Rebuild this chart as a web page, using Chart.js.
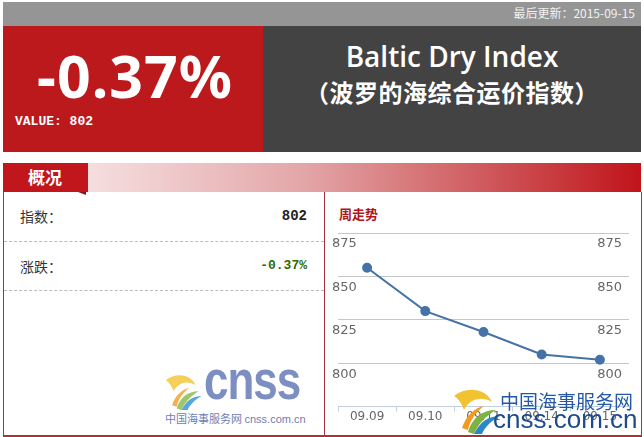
<!DOCTYPE html>
<html>
<head>
<meta charset="utf-8">
<script src="https://cdn.jsdelivr.net/npm/chart.js"></script>
<style>
  body { margin: 0; width: 644px; height: 437px; position: relative; overflow: hidden; background: #fff; font-family: "Noto Sans CJK SC", "Noto Sans", sans-serif; }
  .abs { position: absolute; white-space: nowrap; }
  .mono { font-family: "Liberation Mono", monospace; font-weight: bold; }
</style>
</head>
<body>

<!-- top banner -->
<div class="abs" style="left:3px;top:2px;width:638px;height:24px;background:#959595"></div>
<div class="abs" style="right:9px;top:4px;color:#f2f2f2;font-size:12px;line-height:18px">最后更新：2015-09-15</div>
<div class="abs" style="left:3px;top:26px;width:260px;height:126px;background:#bc191c"></div>
<div class="abs" style="left:263px;top:26px;width:378px;height:126px;background:#434343"></div>
<div class="abs" style="left:37px;top:46px;color:#fff;font-family:'Noto Sans';font-weight:bold;font-size:59px;line-height:58px;letter-spacing:1px">-0.37%</div>
<div class="abs mono" style="left:15px;top:114px;color:#fff;font-size:13px;line-height:16px">VALUE: 802</div>
<div class="abs" style="left:263px;width:378px;top:37px;text-align:center;color:#fff;font-family:'Open Sans';font-weight:600;font-size:28px;line-height:38px">Baltic Dry Index</div>
<div class="abs" style="left:263px;width:378px;top:76px;text-align:center;color:#fff;font-weight:bold;font-size:24px;line-height:32px;letter-spacing:0.5px">（波罗的海综合运价指数）</div>

<!-- section header -->
<div class="abs" style="left:3px;top:163px;width:638px;height:29px;background:linear-gradient(to right,#fbeeee 0px,#f3d6d7 120px,#e3a6a8 300px,#cf5a5d 480px,#c0141a 638px)"></div>
<div class="abs" style="left:3px;top:163px;width:85px;height:29px;background:#c0161c"></div>
<div class="abs" style="left:78px;top:192px;width:0;height:0;border-left:8px solid transparent;border-top:3px solid #8e1014"></div>
<div class="abs" style="left:28px;top:165px;color:#fff;font-weight:bold;font-size:17px;line-height:24px">概况</div>

<!-- panel borders -->
<div class="abs" style="left:3px;top:192px;width:637px;height:243px;border-left:1px solid #b0303a;border-right:1px solid #b0303a;border-bottom:2px solid #b0303a"></div>
<div class="abs" style="left:324px;top:192px;width:1px;height:243px;background:#a83040"></div>

<!-- left summary -->
<div class="abs" style="left:20px;top:206px;color:#333;font-size:14px;line-height:20px">指数：</div>
<div class="abs mono" style="right:337px;top:207px;color:#222;font-size:14px;line-height:18px">802</div>
<div class="abs" style="left:4px;top:241px;width:320px;border-top:1px dashed #bbb"></div>
<div class="abs" style="left:20px;top:256px;color:#333;font-size:14px;line-height:20px">涨跌：</div>
<div class="abs mono" style="right:337px;top:257px;color:#2f6b00;font-size:13px;line-height:18px">-0.37%</div>
<div class="abs" style="left:4px;top:290px;width:320px;border-top:1px dashed #bbb"></div>

<!-- left watermark -->
<svg class="abs" style="left:164px;top:374px" width="38" height="36" viewBox="0 0 48 46">
  <path d="M2,8 C14,-2 34,0 40,14 C30,8 18,10 12,22 C10,16 6,10 2,8 Z" fill="#f5cf5a"/>
  <path d="M10,40 C14,28 22,20 32,18 C24,24 18,32 16,42 Z" fill="#f5b050"/>
  <path d="M16,44 C20,30 30,22 44,22 C34,28 26,36 22,46 Z" fill="#9cc86a"/>
  <path d="M22,46 C28,34 36,28 48,28 C40,32 32,40 30,46 Z" fill="#5aa6d8"/>
</svg>
<div class="abs" style="left:204px;top:362px;color:#7d8fc2;font-family:'Liberation Sans';font-weight:bold;font-size:44px;line-height:48px;letter-spacing:-1px;transform:scaleY(1.25);transform-origin:left bottom">cnss</div>
<div class="abs" style="left:165px;top:411px;color:#6d80b4;font-size:11px;line-height:14px">中国海事服务网 <span style="font-family:'Liberation Sans'">cnss.com.cn</span></div>

<!-- right panel -->
<div class="abs" style="left:339px;top:205px;color:#b0151b;font-weight:bold;font-size:13px;line-height:17px">周走势</div>
<div class="abs" style="left:326px;top:222px;width:314px;height:210px">
  <canvas id="weekChart"></canvas>
</div>

<!-- right watermark -->
<svg class="abs" style="left:452px;top:388px" width="48" height="46" viewBox="0 0 48 46">
  <path d="M2,8 C14,-2 34,0 40,14 C30,8 18,10 12,22 C10,16 6,10 2,8 Z" fill="#f2c230"/>
  <path d="M10,40 C14,28 22,20 32,18 C24,24 18,32 16,42 Z" fill="#f39a1e"/>
  <path d="M16,44 C20,30 30,22 44,22 C34,28 26,36 22,46 Z" fill="#7cb342"/>
  <path d="M22,46 C28,34 36,28 48,28 C40,32 32,40 30,46 Z" fill="#2a88c8"/>
</svg>
<div class="abs" style="left:500px;top:389px;color:#2458a6;font-size:19px;line-height:24px">中国海事服务网</div>
<div class="abs" style="left:493px;top:405px;color:#1c4a8c;font-family:'Liberation Sans';font-size:26px;line-height:28px">cnss.com.cn</div>

<script>
const categories = ["09.09", "09.10", "09.11", "09.14", "09.15"];
const bdiValues = [855, 830, 818, 805, 802];
const yTickValues = [775, 800, 825, 850, 875];

const yMin = yTickValues[0];
const yMax = yTickValues[yTickValues.length - 1];

// labels sit under the grid line, inside the plot
function yAxis(position, pad) {
  return {
    position: position,
    min: yMin,
    max: yMax,
    afterFit: s => { s.width = 0; },
    afterBuildTicks: s => { s.ticks = yTickValues.map(v => ({ value: v })); },
    border: { display: false },
    grid: {
      display: position === "left",
      drawTicks: false,
      color: ctx => ctx.tick && ctx.tick.value === yMin ? "rgba(0,0,0,0)" : "#c6c6c6"
    },
    ticks: {
      mirror: true,
      padding: pad,
      labelOffset: 11,
      color: "#666",
      font: { family: "DejaVu Sans", size: 13 },
      callback: v => v === yMin ? "" : v
    }
  };
}

new Chart(document.getElementById("weekChart"), {
  type: "line",
  data: {
    labels: categories,
    datasets: [{
      data: bdiValues,
      borderColor: "#4572A7",
      backgroundColor: "#4572A7",
      borderWidth: 2,
      pointRadius: 4,
      pointHoverRadius: 4,
      tension: 0
    }]
  },
  options: {
    responsive: true,
    maintainAspectRatio: false,
    animation: false,
    layout: { padding: { left: 12, right: 11, top: 11, bottom: 10 } },
    plugins: {
      legend: { display: false },
      tooltip: { enabled: false }
    },
    scales: {
      x: {
        offset: true,
        border: { color: "#C0D0E0" },
        grid: { offset: true, drawOnChartArea: false, tickLength: 5, color: "#C0D0E0" },
        ticks: { padding: -2, color: "#666", font: { family: "DejaVu Sans", size: 12 } }
      },
      y: yAxis("left", -6),
      y2: yAxis("right", -7)
    }
  }
});
</script>
</body>
</html>
